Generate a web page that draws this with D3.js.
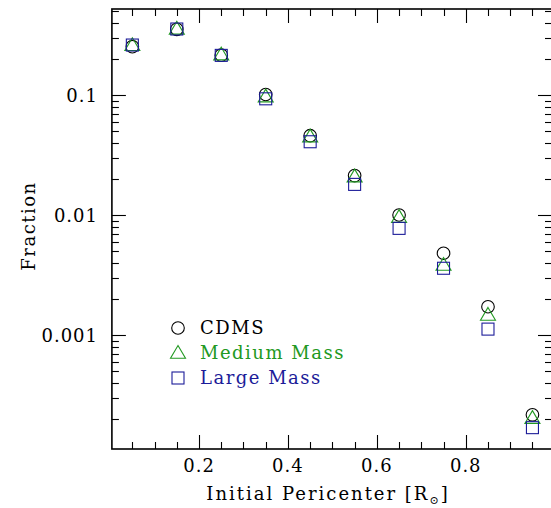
<!DOCTYPE html>
<html>
<head>
<meta charset="utf-8">
<script src="https://cdn.jsdelivr.net/npm/d3@7"></script>
<style>
  body { margin: 0; background: #fff; }
  svg { display: block; }
  text { font-family: "DejaVu Serif", serif; }
</style>
</head>
<body>
<div id="chart"></div>
<script>
// pericenter bins
var pericenter = [0.05, 0.15, 0.25, 0.35, 0.45, 0.55, 0.65, 0.75, 0.85, 0.95];
// fraction per bin
var cdms   = [0.253, 0.353, 0.215, 0.101, 0.0458, 0.0213, 0.0100, 0.0048, 0.00172, 0.000216];
var medium = [0.260, 0.356, 0.217, 0.097, 0.0450, 0.0209, 0.0096, 0.00383, 0.00147, 0.000203];
var large  = [0.261, 0.355, 0.214, 0.093, 0.0408, 0.0180, 0.00774, 0.0036, 0.00112, 0.000169];

var seriesNames = ["CDMS", "Medium Mass", "Large Mass"];
var yTickLabels = ["0.1", "0.01", "0.001"];
var xTickLabels = ["0.2", "0.4", "0.6", "0.8"];

var width = 551, height = 508;
var colors = {"CDMS": "#000000", "Medium Mass": "#229922", "Large Mass": "#1c1c99"};

var svg = d3.select("#chart").append("svg")
  .attr("width", width)
  .attr("height", height);

var x = d3.scaleLinear().domain([0.004, 0.994]).range([111.9, 552]);
var y = d3.scaleLog().domain([Math.pow(10, -3.95), Math.pow(10, -0.283)]).range([449, 9]);

var x0 = x.range()[0], x1 = x.range()[1];
var y0 = y.range()[0], y1 = y.range()[1];

// frame
svg.append("rect")
  .attr("x", x0).attr("y", y1)
  .attr("width", x1 - x0).attr("height", y0 - y1)
  .attr("fill", "none").attr("stroke", "#000").attr("stroke-width", 1.6);

// x ticks (every 0.05, major every 0.2)
var xt = d3.range(1, 20).map(function(i) { return i * 0.05; });
xt.forEach(function(v) {
  var major = Math.abs(v / 0.2 - Math.round(v / 0.2)) < 1e-6;
  var len = major ? 14 : 7;
  var px = Math.round(x(v)) + 0.5;
  svg.append("line").attr("x1", px).attr("x2", px).attr("y1", y0).attr("y2", y0 - len)
    .attr("stroke", "#000").attr("stroke-width", 1.1);
  svg.append("line").attr("x1", px).attr("x2", px).attr("y1", y1).attr("y2", y1 + len)
    .attr("stroke", "#000").attr("stroke-width", 1.1);
});

// y ticks (log)
var yt = [];
[-4, -3, -2, -1].forEach(function(e) {
  for (var m = 1; m <= 9; m++) yt.push({v: m * Math.pow(10, e), major: m === 1});
});
yt.forEach(function(t) {
  if (t.v < y.domain()[0] || t.v > y.domain()[1]) return;
  var len = t.major ? 14 : 7;
  var py = Math.round(y(t.v)) + 0.5;
  svg.append("line").attr("x1", x0).attr("x2", x0 + len).attr("y1", py).attr("y2", py)
    .attr("stroke", "#000").attr("stroke-width", 1.1);
  svg.append("line").attr("x1", x1).attr("x2", x1 - len).attr("y1", py).attr("y2", py)
    .attr("stroke", "#000").attr("stroke-width", 1.1);
});

// tick labels
svg.selectAll(".ylab").data(yTickLabels).enter().append("text")
  .attr("x", 98)
  .attr("y", function(d) { return y(+d) + 7; })
  .attr("text-anchor", "end")
  .attr("font-size", 18)
  .attr("letter-spacing", 1)
  .text(function(d) { return d; });

svg.selectAll(".xlab").data(xTickLabels).enter().append("text")
  .attr("x", function(d) { return x(+d); })
  .attr("y", 472)
  .attr("text-anchor", "middle")
  .attr("font-size", 18)
  .attr("letter-spacing", 1)
  .text(function(d) { return d; });

// axis titles
var xt2 = svg.append("text")
  .attr("x", 328).attr("y", 500)
  .attr("text-anchor", "middle")
  .attr("font-size", 18)
  .attr("letter-spacing", 2);
xt2.append("tspan").text("Initial Pericenter [R");
xt2.append("tspan").attr("font-size", 11).attr("dy", 4).text("\u2299");
xt2.append("tspan").attr("dy", -4).text("]");

svg.append("text")
  .attr("transform", "translate(35,226) rotate(-90)")
  .attr("text-anchor", "middle")
  .attr("font-size", 18)
  .attr("letter-spacing", 1.5)
  .text("Fraction");

// markers
var sym = {
  "CDMS": function(g, cx, cy) {
    g.append("circle").attr("cx", cx).attr("cy", cy).attr("r", 6.3)
      .attr("fill", "none").attr("stroke", colors["CDMS"]).attr("stroke-width", 1.1);
  },
  "Medium Mass": function(g, cx, cy) {
    var s = 7.5;
    g.append("path")
      .attr("d", "M" + cx + "," + (cy - s) + "L" + (cx + s) + "," + (cy + s * 0.7) + "L" + (cx - s) + "," + (cy + s * 0.7) + "Z")
      .attr("fill", "none").attr("stroke", colors["Medium Mass"]).attr("stroke-width", 1.1);
  },
  "Large Mass": function(g, cx, cy) {
    g.append("rect").attr("x", cx - 6).attr("y", cy - 6).attr("width", 12).attr("height", 12)
      .attr("fill", "none").attr("stroke", colors["Large Mass"]).attr("stroke-width", 1.1);
  }
};

var seriesData = {"CDMS": cdms, "Medium Mass": medium, "Large Mass": large};
var gPts = svg.append("g");
seriesNames.forEach(function(name) {
  seriesData[name].forEach(function(v, i) {
    sym[name](gPts, x(pericenter[i]), y(v));
  });
});

// legend
var legend = svg.append("g");
seriesNames.forEach(function(name, i) {
  var ly = 328 + i * 25;
  sym[name](legend, 178, ly);
  legend.append("text")
    .attr("x", 200).attr("y", ly + 6)
    .attr("font-size", 18)
    .attr("letter-spacing", 1.5)
    .attr("fill", colors[name])
    .text(name);
});
</script>
</body>
</html>
